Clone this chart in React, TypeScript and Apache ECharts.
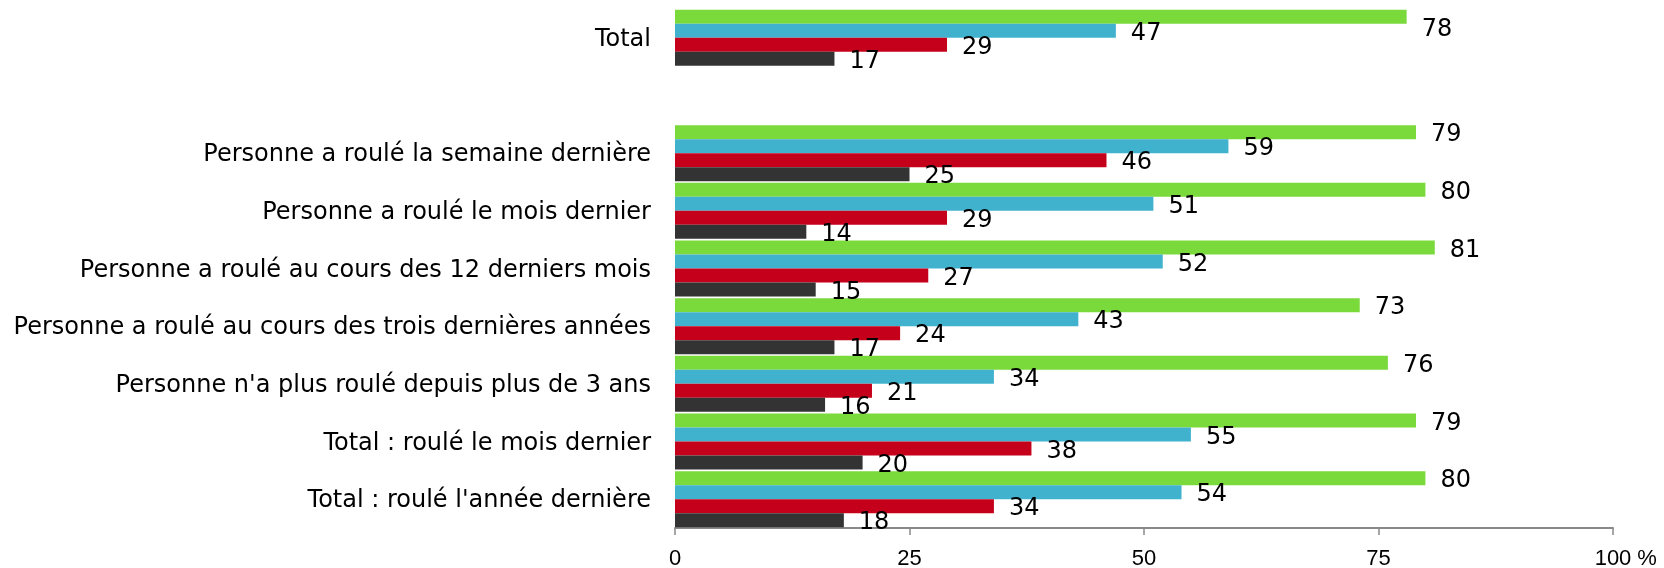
import React, { useEffect, useRef } from "react";
import * as echarts from "echarts";

const categories = [
  "Total",
  "",
  "Personne a roulé la semaine dernière",
  "Personne a roulé le mois dernier",
  "Personne a roulé au cours des 12 derniers mois",
  "Personne a roulé au cours des trois dernières années",
  "Personne n'a plus roulé depuis plus de 3 ans",
  "Total : roulé le mois dernier",
  "Total : roulé l'année dernière",
];

const greenValues = [78, null, 79, 80, 81, 73, 76, 79, 80];
const blueValues = [47, null, 59, 51, 52, 43, 34, 55, 54];
const redValues = [29, null, 46, 29, 27, 24, 21, 38, 34];
const darkValues = [17, null, 25, 14, 15, 17, 16, 20, 18];

const xTicks = [0, 25, 50, 75, 100];

const seriesDefs = [
  { name: "s1", data: greenValues, color: "#7AD93B" },
  { name: "s2", data: blueValues, color: "#41B2CE" },
  { name: "s3", data: redValues, color: "#C5001A" },
  { name: "s4", data: darkValues, color: "#333333" },
];

export default function App() {
  const ref = useRef<HTMLDivElement>(null);
  useEffect(() => {
    if (!ref.current) return;
    const chart = echarts.init(ref.current, null, { renderer: "svg" });
    const series = seriesDefs.map((s, si) => ({
      type: "bar",
      name: s.name,
      barWidth: 14,
      barGap: "0%",
      itemStyle: { color: s.color },
      label: {
        show: true,
        position: "right",
        distance: 15,
        offset: [0, 1],
        fontFamily: "DejaVu Sans",
        fontSize: 24,
        color: "#000",
      },
      data: s.data.map((v, i) =>
        si === 0 && i === 0
          ? { value: v, label: { offset: [0, 11] } }
          : v === null
          ? "-"
          : v
      ),
    }));
    chart.setOption({
      animation: false,
      grid: { left: 675, right: 51, top: 9, bottom: 40 },
      xAxis: {
        type: "value",
        min: 0,
        max: 100,
        interval: 25,
        splitLine: { show: false },
        axisLine: { show: true, lineStyle: { color: "#898989", width: 2 } },
        axisTick: { show: true, length: 7, lineStyle: { color: "#898989", width: 1.5 } },
        axisLabel: {
          margin: 18,
          fontFamily: "Liberation Sans",
          fontSize: 22,
          color: "#000",
          formatter: (v: number) => (xTicks.includes(v) ? String(v) : ""),
        },
        name: "%",
        nameLocation: "end",
        nameGap: 24,
        nameTextStyle: {
          fontFamily: "Liberation Sans",
          fontSize: 22,
          color: "#000",
          align: "left",
          verticalAlign: "top",
          lineHeight: 22,
          padding: [18, 0, 0, 0],
        },
      },
      yAxis: {
        type: "category",
        inverse: true,
        data: categories,
        axisLine: { show: false },
        axisTick: { show: false },
        axisLabel: {
          margin: 24,
          fontFamily: "DejaVu Sans",
          fontSize: 24,
          color: "#000",
        },
      },
      series,
    });
    return () => chart.dispose();
  }, []);
  return (
    <div
      ref={ref}
      style={{ position: "fixed", left: 0, top: 0, width: 1664, height: 568 }}
    />
  );
}
